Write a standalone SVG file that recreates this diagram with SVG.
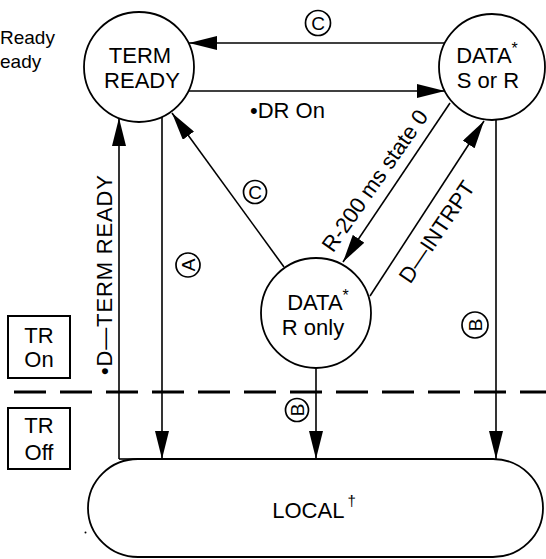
<svg xmlns="http://www.w3.org/2000/svg" width="546" height="559" viewBox="0 0 546 559">
<style>
text{font-family:"Liberation Sans",Arial,Helvetica,sans-serif;fill:#000}
.node{fill:#fff;stroke:#000;stroke-width:1.8}
.lbl{font-size:22px}
.big{font-size:22px;text-anchor:middle}
.conn{fill:none;stroke:#000;stroke-width:1.6}
.dash{fill:none;stroke:#000;stroke-width:3;stroke-dasharray:32 14}
.ring{fill:#fff;stroke:#000;stroke-width:1.7}
.let{font-size:19px;text-anchor:middle}
.box{fill:#fff;stroke:#000;stroke-width:2}
</style>
<defs>
<marker id="ah" viewBox="0 0 28 14" refX="28" refY="7" markerWidth="28" markerHeight="14" orient="auto" markerUnits="userSpaceOnUse">
<path d="M0,0 L28,7 L0,14 z" fill="#000"/>
</marker>
</defs>
<rect width="546" height="559" fill="#fff"/>

<g id="legend">
<text x="0" y="44" style="font-size:19px">Ready</text>
<text x="0" y="68" style="font-size:19px">eady</text>
</g>

<g id="connectors">
<line class="dash" x1="14" y1="392" x2="546" y2="392"/>
<path class="conn" d="M445,43 H189" marker-end="url(#ah)"/>
<path class="conn" d="M189,91 H445" marker-end="url(#ah)"/>
<path class="conn" d="M284,267 L172,113" marker-end="url(#ah)"/>
<path class="conn" d="M450,103 L343,262" marker-end="url(#ah)"/>
<path class="conn" d="M370,296 L484,121" marker-end="url(#ah)"/>
<path class="conn" d="M119,459 V118" marker-end="url(#ah)"/>
<path class="conn" d="M119,459 H140"/>
<path class="conn" d="M162,117 V459" marker-end="url(#ah)"/>
<path class="conn" d="M316,368 V459" marker-end="url(#ah)"/>
<path class="conn" d="M496,119 V459" marker-end="url(#ah)"/>

<text class="lbl" x="250" y="118">•DR On</text>
<text class="lbl" text-anchor="middle" transform="translate(381,185) rotate(-55)">R-200 ms state 0</text>
<text class="lbl" text-anchor="middle" transform="translate(443,236) rotate(-56)">D—INTRPT</text>
<text class="lbl" text-anchor="middle" textLength="200" lengthAdjust="spacing" transform="translate(112,275) rotate(-90)">•D—TERM READY</text>

<g id="lblC1"><circle class="ring" cx="318" cy="23" r="12.5"/><text class="let" x="318" y="30">C</text></g>
<g id="lblC2"><circle class="ring" cx="255" cy="192" r="11.5"/><text class="let" x="255" y="199">C</text></g>
<g id="lblA" transform="translate(188,265) rotate(-90)"><circle class="ring" cx="0" cy="0" r="12"/><text class="let" x="0" y="7">A</text></g>
<g id="lblB1" transform="translate(297,410) rotate(-90)"><circle class="ring" cx="0" cy="0" r="11.5"/><text class="let" x="0" y="7">B</text></g>
<g id="lblB2" transform="translate(475,325) rotate(-90)"><circle class="ring" cx="0" cy="0" r="13"/><text class="let" x="0" y="7">B</text></g>
</g>

<g id="term-ready">
<circle class="node" cx="139" cy="67" r="55"/>
<text class="big" x="140" y="63">TERM</text>
<text class="big" x="142" y="88">READY</text>
</g>

<g id="data-s-or-r">
<circle class="node" cx="492" cy="67" r="53"/>
<text class="big" x="487" y="63">DATA<tspan dy="-9" style="font-size:16px">*</tspan></text>
<text class="big" x="488" y="88">S or R</text>
</g>

<g id="data-r-only">
<circle class="node" cx="316" cy="313" r="55"/>
<text class="big" x="318" y="310">DATA<tspan dy="-9" style="font-size:16px">*</tspan></text>
<text class="big" x="313" y="335">R only</text>
</g>

<g id="local">
<rect class="node" x="88" y="459" width="455" height="98" rx="50" ry="49"/>
<text class="big" x="314" y="518">LOCAL<tspan dx="3" dy="-12" style="font-size:15px">†</tspan></text>
<circle cx="85.5" cy="532.5" r="1" fill="#000"/>
</g>

<g id="tr-on">
<rect class="box" x="8" y="316" width="62" height="62"/>
<text class="big" x="39" y="343">TR</text>
<text class="big" x="39" y="367">On</text>
</g>

<g id="tr-off">
<rect class="box" x="8" y="408" width="62" height="61"/>
<text class="big" x="39" y="433">TR</text>
<text class="big" x="39" y="460">Off</text>
</g>
</svg>
